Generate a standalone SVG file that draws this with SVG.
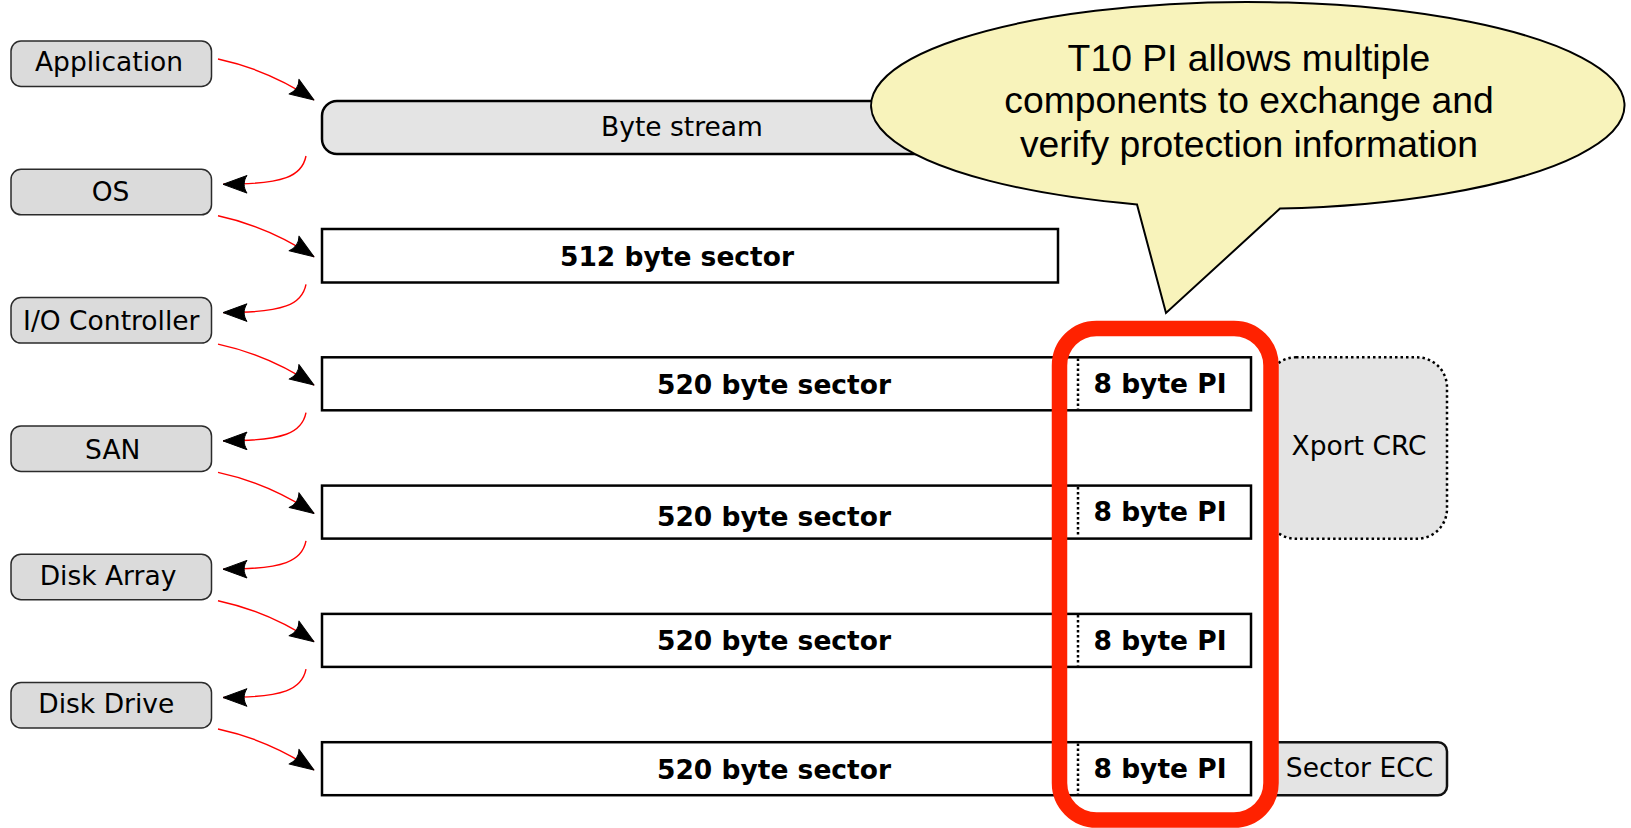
<svg xmlns="http://www.w3.org/2000/svg" width="1631" height="828" viewBox="0 0 1631 828">
  <defs>
    <style>
      .lbl { fill: #dbdbdb; stroke: #2b2b2b; stroke-width: 1.5; }
      .row { fill: #ffffff; stroke: #000000; stroke-width: 2.5; }
      .grey { fill: #e4e4e4; }
      .t { font-family: "DejaVu Sans", sans-serif; font-size: 26.5px; fill: #000000; text-anchor: middle; }
      .b { font-weight: bold; }
      .div { stroke: #000000; stroke-width: 2.5; stroke-dasharray: 2.5 2.5; fill: none; }
      .flow { fill: none; stroke: #ff0000; stroke-width: 1.4; marker-end: url(#ah); }
      .callt { font-family: "Liberation Sans", Arial, sans-serif; font-size: 37.3px; fill: #000000; text-anchor: middle; }
    </style>
    <marker id="ah" markerUnits="userSpaceOnUse" orient="auto" markerWidth="30" markerHeight="20" refX="26" refY="10">
      <path d="M26,10 L2,1.2 C5.8,6.5 5.8,13.5 2,18.8 Z" fill="#000" stroke="#000" stroke-width="1" stroke-linejoin="round"/>
    </marker>
  </defs>

  <!-- data rows -->
  <g id="row-bytestream">
    <rect class="row grey" x="322" y="101" width="930" height="53" rx="15"/>
    <text class="t" x="682" y="136">Byte stream</text>
  </g>
  <g id="row-512">
    <rect class="row" x="322" y="229" width="736" height="53.5"/>
    <text class="t b" x="677" y="265.5">512 byte sector</text>
  </g>
  <g id="row-520-1">
    <rect class="row" x="322" y="357.3" width="929" height="53"/>
    <line class="div" x1="1078" y1="358.5" x2="1078" y2="409"/>
    <text class="t b" x="774" y="394">520 byte sector</text>
    <text class="t b" x="1160" y="393">8 byte PI</text>
  </g>
  <g id="row-520-2">
    <rect class="row" x="322" y="485.6" width="929" height="53"/>
    <line class="div" x1="1078" y1="487" x2="1078" y2="537"/>
    <text class="t b" x="774" y="525.5">520 byte sector</text>
    <text class="t b" x="1160" y="521">8 byte PI</text>
  </g>
  <g id="row-520-3">
    <rect class="row" x="322" y="613.9" width="929" height="53"/>
    <line class="div" x1="1078" y1="615" x2="1078" y2="665.5"/>
    <text class="t b" x="774" y="650">520 byte sector</text>
    <text class="t b" x="1160" y="649.5">8 byte PI</text>
  </g>
  <g id="row-520-4">
    <rect class="row" x="322" y="742.2" width="929" height="53"/>
    <line class="div" x1="1078" y1="743.5" x2="1078" y2="794"/>
    <text class="t b" x="774" y="778.5">520 byte sector</text>
    <text class="t b" x="1160" y="777.5">8 byte PI</text>
  </g>

  <!-- stack layers -->
  <g id="layer-application">
    <rect class="lbl" x="11" y="41" width="200.5" height="45.5" rx="10"/>
    <text class="t" x="109" y="71">Application</text>
  </g>
  <g id="layer-os">
    <rect class="lbl" x="11" y="169.3" width="200.5" height="45.5" rx="10"/>
    <text class="t" x="110.5" y="201">OS</text>
  </g>
  <g id="layer-io">
    <rect class="lbl" x="11" y="297.6" width="200.5" height="45.5" rx="10"/>
    <text class="t" x="111.3" y="329.5">I/O Controller</text>
  </g>
  <g id="layer-san">
    <rect class="lbl" x="11" y="425.9" width="200.5" height="45.5" rx="10"/>
    <text class="t" x="112.7" y="459">SAN</text>
  </g>
  <g id="layer-array">
    <rect class="lbl" x="11" y="554.2" width="200.5" height="45.5" rx="10"/>
    <text class="t" x="108" y="584.5">Disk Array</text>
  </g>
  <g id="layer-drive">
    <rect class="lbl" x="11" y="682.5" width="200.5" height="45.5" rx="10"/>
    <text class="t" x="106.3" y="712.5">Disk Drive</text>
  </g>

  <!-- connectors -->
  <g id="connectors">
    <path class="flow" d="M218,59 c28,6 60,17 96,41"/>
    <path class="flow" d="M306,156 c-4,20 -21,28.3 -83,28.3"/>
    <path class="flow" d="M218,215.8 c28,6 60,17 96,41"/>
    <path class="flow" d="M306,284.3 c-4,20 -21,28.3 -83,28.3"/>
    <path class="flow" d="M218,344.1 c28,6 60,17 96,41"/>
    <path class="flow" d="M306,412.6 c-4,20 -21,28.3 -83,28.3"/>
    <path class="flow" d="M218,472.4 c28,6 60,17 96,41"/>
    <path class="flow" d="M306,540.9 c-4,20 -21,28.3 -83,28.3"/>
    <path class="flow" d="M218,600.7 c28,6 60,17 96,41"/>
    <path class="flow" d="M306,669.2 c-4,20 -21,28.3 -83,28.3"/>
    <path class="flow" d="M218,729 c28,6 60,17 96,41"/>
  </g>

  <!-- checks on the right -->
  <g id="xport-crc">
    <rect class="grey" x="1266" y="357.3" width="181" height="181.5" rx="30" stroke="#000" stroke-width="2.5" stroke-dasharray="2.5 3"/>
    <text class="t" x="1359" y="455">Xport CRC</text>
  </g>
  <g id="sector-ecc">
    <rect class="grey" x="1266" y="742.2" width="181" height="53" rx="9" stroke="#111" stroke-width="2.5"/>
    <text class="t" x="1359.5" y="777">Sector ECC</text>
  </g>

  <!-- highlight around the protection information column -->
  <g id="pi-highlight">
    <rect x="1059.5" y="328.5" width="211.5" height="491.5" rx="37" fill="none" stroke="#ff2200" stroke-width="15.5"/>
  </g>

  <!-- callout -->
  <g id="callout">
    <path d="M1137,204.4 A376.7,103.5 0 1 1 1280,208.6 L1166,313 Z" fill="#f8f3bb" stroke="#000" stroke-width="2" stroke-linejoin="miter"/>
    <text class="callt" x="1249" y="71">T10 PI allows multiple</text>
    <text class="callt" x="1249" y="113">components to exchange and</text>
    <text class="callt" x="1249" y="157">verify protection information</text>
  </g>
</svg>
